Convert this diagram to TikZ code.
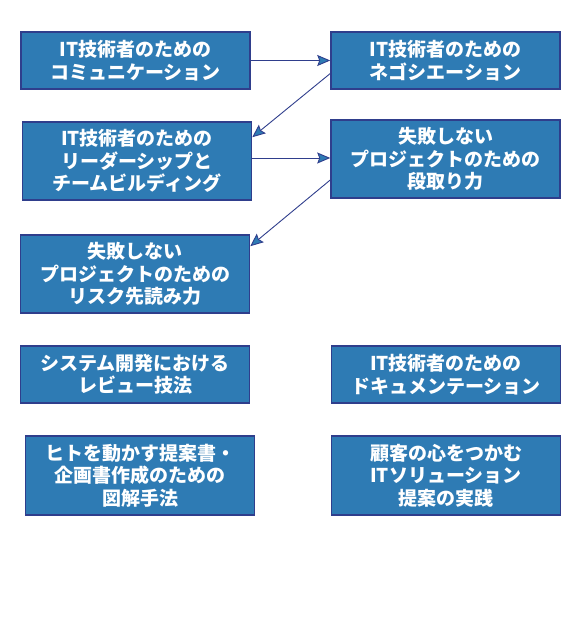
\documentclass[tikz,border=0pt]{standalone}
\usepackage{fontspec}
\newfontfamily\jpfont{Noto Sans CJK JP}
\usetikzlibrary{arrows.meta}
\definecolor{boxblue}{HTML}{2E7BB4}
\definecolor{navy}{HTML}{2F3E8C}
\tikzset{
	course/.style={draw=navy, line width=1.5pt, fill=boxblue, text=white,
		align=center, minimum width=229pt, inner sep=0pt,
		font=\jpfont\bfseries\fontsize{19}{22.5}\selectfont},
	link/.style={draw=navy, line width=0.9pt,
		-{Stealth[length=13pt,width=11pt,inset=2pt,fill=boxblue]}}
}
\begin{document}
\begin{tikzpicture}[x=1pt,y=1pt]
	\useasboundingbox (0,0) rectangle (580,620);
	\node[course, minimum height=57pt] (A) at (135.5,559.5) {IT技術者のための\\コミュニケーション};
	\node[course, minimum height=57pt] (B) at (445.5,559.5) {IT技術者のための\\ネゴシエーション};
	\node[course, minimum height=78pt] (C) at (137,459) {IT技術者のための\\リーダーシップと\\チームビルディング};
	\node[course, minimum height=78pt] (D) at (445.5,461) {失敗しない\\プロジェクトのための\\段取り力};
	\node[course, minimum height=78pt] (E) at (135,346) {失敗しない\\プロジェクトのための\\リスク先読み力};
	\node[course, minimum height=57pt] (F) at (135,245.5) {システム開発における\\レビュー技法};
	\node[course, minimum height=57pt] (G) at (446,245.5) {IT技術者のための\\ドキュメンテーション};
	\node[course, minimum height=79pt] (H) at (140,144.5) {ヒトを動かす提案書・\\企画書作成のための\\図解手法};
	\node[course, minimum height=79pt] (I) at (446,144.5) {顧客の心をつかむ\\ITソリューション\\提案の実践};
	% order of the courses
	\draw[link] (A.east) -- (B.west);
	\draw[link] ([yshift=-13pt]B.west) -- ([yshift=-16pt]C.north east);
	\draw[link] ([yshift=3pt]C.east) -- ([yshift=1pt]D.west);
	\draw[link] ([yshift=-21pt]D.west) -- ([yshift=-12pt]E.north east);
\end{tikzpicture}
\end{document}
